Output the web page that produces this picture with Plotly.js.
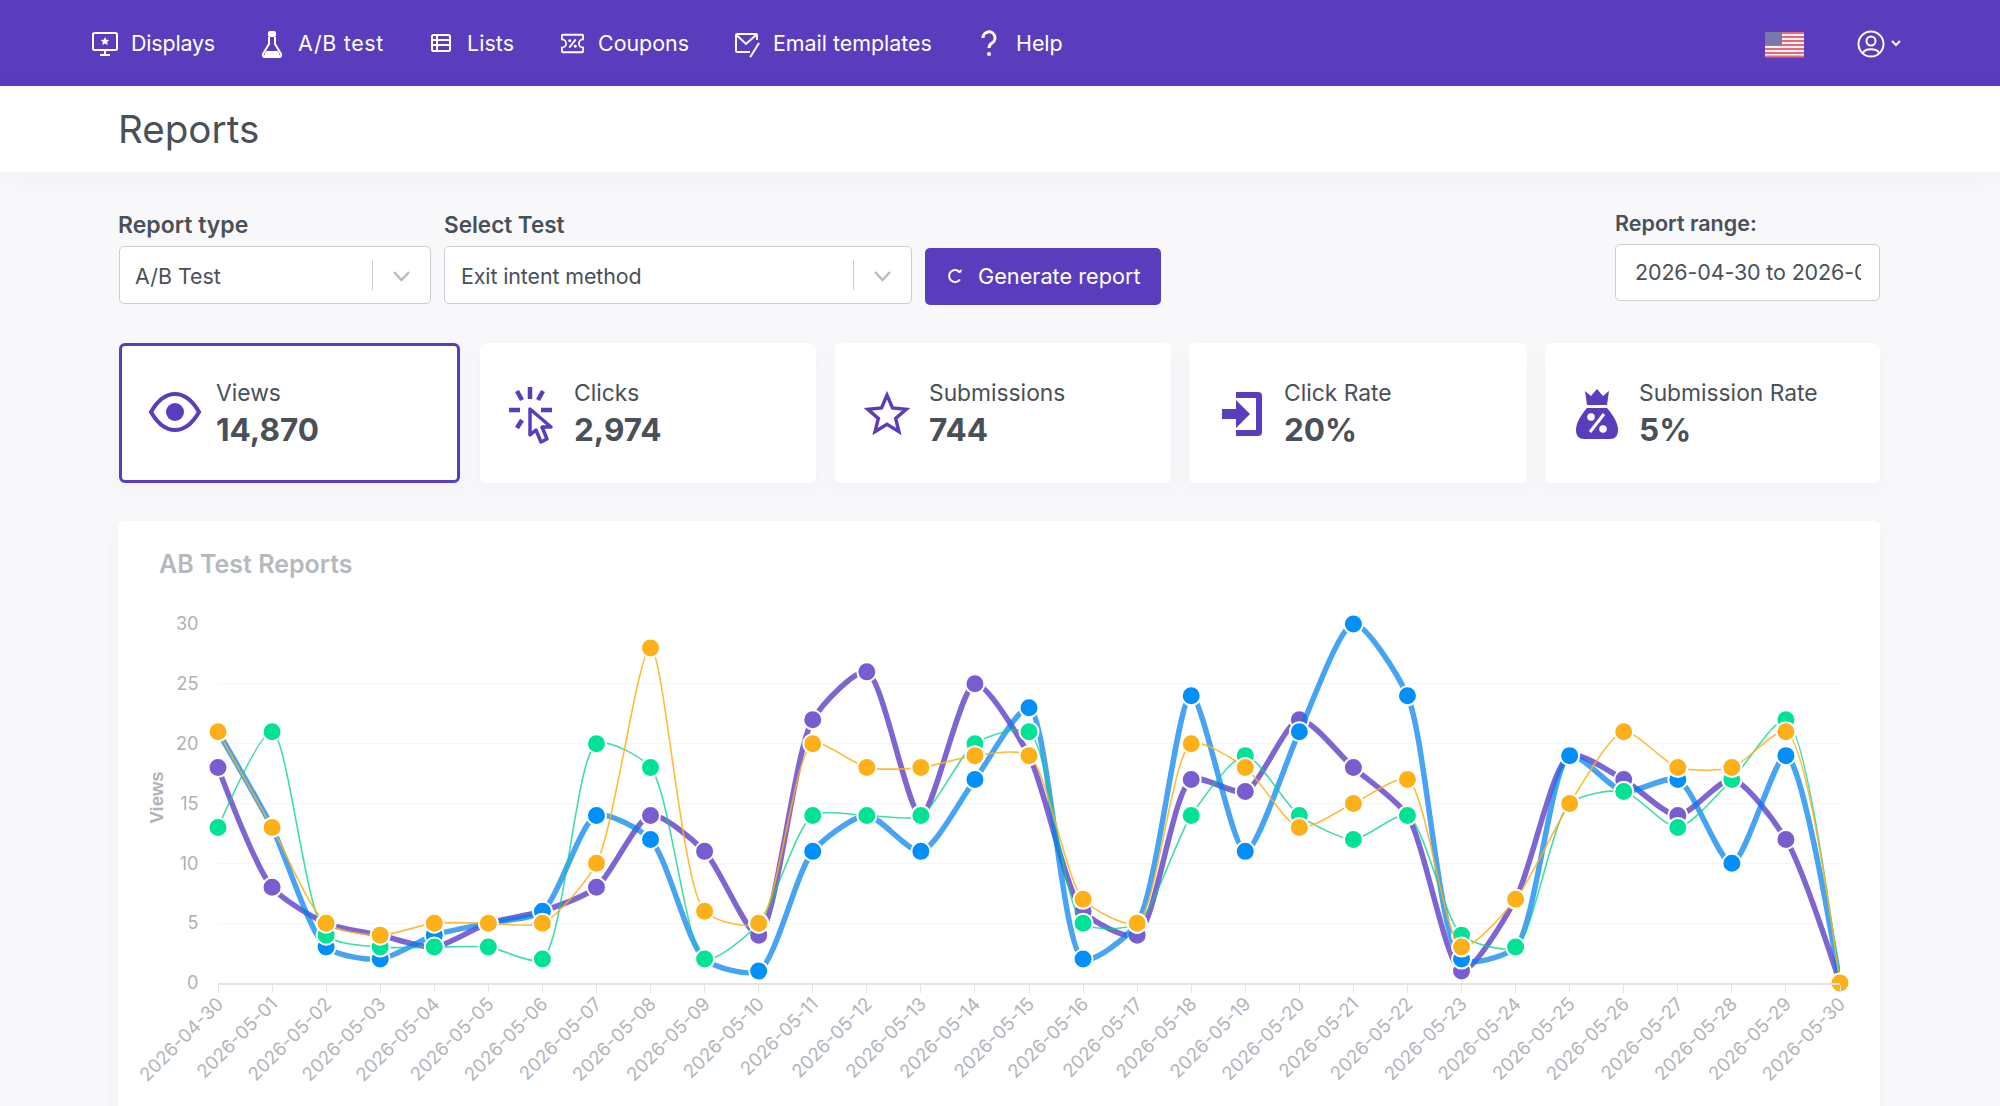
<!DOCTYPE html>
<html><head><meta charset="utf-8">
<script src="https://cdn.plot.ly/plotly-3.0.1.min.js"></script>
<style>
html,body{margin:0;padding:0;background:#f8f8fb;width:2000px;height:1106px;overflow:hidden;font-family:Inter,sans-serif}
.a{position:absolute;white-space:nowrap}
.t{position:absolute;white-space:nowrap;transform:translateY(-50%);line-height:1}
.box{position:absolute;box-sizing:border-box;background:#fff;border:1.5px solid #ccced2;border-radius:5px}
.card{position:absolute;box-sizing:border-box;background:#fff;border-radius:6px;box-shadow:0 6px 20px rgba(60,60,90,.035)}
svg{position:absolute;overflow:visible}
</style></head><body>
<div id="ui"></div>
<div id="chart" class="a" style="left:118px;top:521px;width:1762px;height:585px"></div>
<script>
const dates=["2026-04-30","2026-05-01","2026-05-02","2026-05-03","2026-05-04","2026-05-05","2026-05-06","2026-05-07","2026-05-08","2026-05-09","2026-05-10","2026-05-11","2026-05-12","2026-05-13","2026-05-14","2026-05-15","2026-05-16","2026-05-17","2026-05-18","2026-05-19","2026-05-20","2026-05-21","2026-05-22","2026-05-23","2026-05-24","2026-05-25","2026-05-26","2026-05-27","2026-05-28","2026-05-29","2026-05-30"];
const purpleSeries=[18,8,5,4,3,5,6,8,14,11,4,22,26,14,25,19,6,4,17,16,22,18,14,1,7,19,17,14,17,12,0];
const blueSeries=[21,13,3,2,4,5,6,14,12,2,1,11,14,11,17,23,2,5,24,11,21,30,24,2,3,19,16,17,10,19,0];
const greenSeries=[13,21,4,3,3,3,2,20,18,2,5,14,14,14,20,21,5,5,14,19,14,12,14,4,3,15,16,13,17,22,0];
const orangeSeries=[21,13,5,4,5,5,5,10,28,6,5,20,18,18,19,19,7,5,20,18,13,15,17,3,7,15,21,18,18,21,0];
const yTicks=[0,5,10,15,20,25,30];

const ui=document.getElementById('ui');
const P='#5a3dbd',D='#495057';
function add(h){ui.insertAdjacentHTML('beforeend',h)}
function rect(x,y,w,h,c,extra){add(`<div class="a" style="left:${x}px;top:${y}px;width:${w}px;height:${h}px;background:${c};${extra||''}"></div>`)}
function txt(x,y,s,size,weight,color,extra){add(`<div class="t" style="left:${x}px;top:${y}px;font-size:${size}px;font-weight:${weight};color:${color};${extra||''}">${s}</div>`)}
function icon(x,y,w,h,vb,body){add(`<svg style="left:${x}px;top:${y}px" width="${w}" height="${h}" viewBox="${vb}">${body}</svg>`)}

// nav
rect(0,0,2000,86,P);
rect(0,86,2000,86,'#fff','box-shadow:0 4px 24px rgba(60,60,90,.035)');
const W='fill="none" stroke="#fff" stroke-width="2"';
const navItems=[["Displays",131,'letter-spacing:-.15px'],["A/B test",298,'letter-spacing:.7px'],["Lists",467,'letter-spacing:.1px'],["Coupons",598,''],["Email templates",773,''],["Help",1016,'']];
navItems.forEach(n=>txt(n[1],44,n[0],21.4,400,'#fff',n[2]));
icon(92,31,26,26,"0 0 26 26",`<rect x="1" y="2" width="24" height="17" rx="1.5" ${W}/><path d="M13 19v4M8 24h10" ${W}/><path d="M13 6l1.3 2.8 3 .3-2.2 2 .7 3-2.8-1.6-2.8 1.6.7-3-2.2-2 3-.3z" fill="#fff"/>`);
icon(260,30,24,28,"0 0 24 28",`<path d="M9 7v7L3 24a2 2 0 0 0 2 3h14a2 2 0 0 0 2-3L15 14V7" ${W}/><rect x="8" y="1" width="8" height="6" rx="2" fill="#fff"/><path d="M6 21h12l2 5H4z" fill="#fff"/>`);
icon(431,34,20,18,"0 0 20 18",`<rect x="1" y="1" width="18" height="16" rx="1.5" ${W}/><path d="M1 6h18M1 11h18M6 1v16" ${W}/>`);
icon(561,33,23,21,"0 0 25 21",`<path d="M2 1h21a1 1 0 0 1 1 1v4a4 4 0 0 0 0 9v4a1 1 0 0 1-1 1H2a1 1 0 0 1-1-1v-4a4 4 0 0 0 0-9V2a1 1 0 0 1 1-1z" ${W}/><path d="M9 15l7-9" ${W}/><circle cx="9.5" cy="7.5" r="1.6" fill="#fff"/><circle cx="15.5" cy="13.5" r="1.6" fill="#fff"/>`);
icon(735,32,26,26,"0 0 26 26",`<path d="M15 20H2a1 1 0 0 1-1-1V3a1 1 0 0 1 1-1h19a1 1 0 0 1 1 1v5" ${W}/><path d="M1.5 3L11 12l10-9" ${W}/><path d="M24 11L16 24l-1 1" ${W} stroke-width="2.5"/>`);
icon(980,31,18,26,"0 0 18 26",`<path d="M3 7a6 6 0 1 1 9 5c-2 1.300-3 2.500-3 5" fill="none" stroke="#fff" stroke-width="3"/><circle cx="9" cy="23" r="2" fill="#fff"/>`);
// flag
icon(1765,32,39,25,"0 0 39 25",`<rect width="39" height="25" fill="#fbf0f2"/><path d="M0 1h39M0 5h39M0 9h39M0 13h39M0 17h39M0 21h39M0 24.500h39" stroke="#e46a7a" stroke-width="1.900"/><rect width="17" height="13.500" fill="#7779a8"/>`);
icon(1857,30,28,28,"0 0 28 28",`<circle cx="14" cy="14" r="12.500" ${W} stroke-width="2.200"/><circle cx="14" cy="11" r="4.500" ${W} stroke-width="2.200"/><path d="M6 23c2-5 14-5 16 0" ${W} stroke-width="2.200"/>`);
icon(1891,40,10,7,"0 0 10 7",`<path d="M1 1l4 4 4-4" ${W} stroke-width="1.500"/>`);

txt(118,129,"Reports",38.6,400,D);
// filters
txt(118,225,"Report type",23,600,D);
txt(444,225,"Select Test",22.5,600,D);
txt(1615,224,"Report range:",21.500,600,D);
add(`<div class="box" style="left:119px;top:246px;width:312px;height:58px"></div>`);
add(`<div class="box" style="left:444px;top:246px;width:468px;height:58px"></div>`);
txt(135,277,"A/B Test",21.4,400,D);
txt(461,277,"Exit intent method",21.4,400,D,'letter-spacing:-.1px');
rect(372,260,1.300,30,'#ccced2');rect(853,260,1.300,30,'#ccced2');
const chev=`<path d="M1 1l7.500 8 7.500-8" fill="none" stroke="#b8bbbf" stroke-width="2.400"/>`;
icon(393,271,17,10,"0 0 17 10",chev);
icon(874,271,17,10,"0 0 17 10",chev);
rect(925,248,236,57,P,'border-radius:5px');
icon(948,268,14,16,"0 0 14 16",`<path d="M12 4.500A6 6 0 1 0 12 11.500" fill="none" stroke="#fff" stroke-width="2"/><path d="M9.500 4.500h4v-3.500z" fill="#fff"/>`);
txt(978,277,"Generate report",21.7,400,'#fff');
add(`<div class="box" style="left:1615px;top:244px;width:265px;height:57px"></div>`);
add(`<div class="a" style="left:1635px;top:244px;width:226px;height:57px;overflow:hidden"><div class="t" style="left:0;top:29px;font-size:21.5px;letter-spacing:-.15px;color:${D}">2026-04-30 to 2026-0</div></div>`);
// cards
const cards=[[119,341,"Views","14,870",216,'.4px'],[480,336,"Clicks","2,974",574,'-.2px'],[835,336,"Submissions","744",929,'-.2px'],[1189,338,"Click Rate","20%",1284,'-.6px'],[1545,335,"Submission Rate","5%",1639,'-.8px']];
cards.forEach((c,i)=>{
 add(`<div class="card" style="left:${c[0]}px;top:343px;width:${c[1]}px;height:140px;${i==0?`border:3px solid ${P};`:''}"></div>`);
 txt(c[4],393,c[2],22.8,400,D);
 txt(c[4],429.5,c[3],31.5,700,D,`font-feature-settings:"tnum";letter-spacing:${c[5]}`);
});
icon(149,392,52,40,"0 0 52 40",`<path d="M2 20C10 6 18 2 26 2s16 4 24 18c-8 14-16 18-24 18S10 34 2 20z" fill="none" stroke="${P}" stroke-width="4"/><circle cx="26" cy="20" r="9" fill="${P}"/>`);
icon(509,386,46,58,"0 0 46 58",`<path d="M21 1v12M8 5l5 9M34 5l-5 9M0 24h11M32 24h11M8 42l5-8" fill="none" stroke="${P}" stroke-width="4.500"/><path d="M21 23v26l6-5 5 12 6-3-5-12h9z" fill="none" stroke="${P}" stroke-width="3.500" stroke-linejoin="round"/>`);
icon(866,392,42,41,"0 0 46 44",`<path d="M23 3l6 14 15 1.500-11.500 10 3.500 14.500-13-8-13 8 3.500-14.500L2 18.500 17 17z" fill="none" stroke="${P}" stroke-width="3.800" stroke-linejoin="miter"/>`);
icon(1222,390,42,48,"0 0 42 48",`<path d="M14 2h22a4 4 0 0 1 4 4v36a4 4 0 0 1-4 4H14V40h20V8H14z" fill="${P}"/><path d="M0 19h14v-9l14 14-14 14v-9H0z" fill="${P}"/>`);
icon(1576,388,42,52,"0 0 42 52",`<path d="M9 3l6 5 6-7 6 7 6-5-2 14H11z" fill="${P}"/><path d="M11 20h20c5 6 11 14 11 22 0 6-3 9-8 9H8c-5 0-8-3-8-9 0-8 6-16 11-22z" fill="${P}"/><path d="M28 26L14 44" stroke="#fff" stroke-width="3"/><circle cx="15" cy="29" r="3.800" fill="#fff"/><circle cx="27" cy="41" r="3.800" fill="#fff"/>`);
// chart card
add(`<div class="card" style="left:118px;top:521px;width:1762px;height:600px"></div>`);
txt(159,563.5,"AB Test Reports",25,600,'#b4b9be');

function tr(name,y,marker,lineColor,w){return{type:'scatter',mode:'lines+markers',name:name,x:dates,y:y,cliponaxis:false,
 line:{shape:'spline',smoothing:0.7,color:lineColor,width:w},
 marker:{size:19,color:marker,line:{color:'#fff',width:2}},hoverinfo:'x+y'}}
Plotly.newPlot('chart',[
 tr('Purple',purpleSeries,'#775DD0','rgba(119,93,208,.95)',5.5),
 tr('Blue',blueSeries,'#008FFB','rgba(0,127,240,.72)',5.5),
 tr('Green',greenSeries,'#00E396','rgba(0,210,140,.75)',1.6),
 tr('Orange',orangeSeries,'#FEB019','rgba(254,176,25,.85)',1.6)
],{width:1762,height:585,margin:{l:100,r:40,t:103,b:123},showlegend:false,
 paper_bgcolor:'rgba(0,0,0,0)',plot_bgcolor:'rgba(0,0,0,0)',
 font:{family:'Inter, sans-serif',color:'#adb1b6',size:18},
 xaxis:{type:'category',categoryorder:'array',categoryarray:dates,range:[0,30],tickmode:'array',tickvals:dates,ticktext:dates,tickangle:-45,
  showgrid:false,zeroline:false,showline:true,linecolor:'#e3e4e6',linewidth:1.5,ticks:'outside',ticklen:8,tickcolor:'#e3e4e6',tickwidth:1.2,ticklabelstandoff:-7,
  tickfont:{family:'Inter, sans-serif',size:18.5,color:'#b2b5ba'},automargin:false},
 yaxis:{range:[0,30],tickmode:'array',tickvals:yTicks,ticktext:yTicks.map(String),showgrid:true,gridcolor:'#f6f6f7',gridwidth:1.2,zeroline:false,showline:false,
  ticks:'outside',ticklen:15,tickcolor:'rgba(0,0,0,0)',tickfont:{family:'Inter, sans-serif',size:18,color:'#adb1b6'},automargin:false},
 annotations:[{text:'Views',xref:'paper',yref:'paper',x:0,y:0.5,xshift:-62,yshift:6,textangle:-90,showarrow:false,xanchor:'center',yanchor:'middle',
  font:{family:'Liberation Sans, sans-serif',size:18.5,weight:700,color:'#b0b4b8'}}]
},{displayModeBar:false,responsive:false});
</script>
</body></html>
